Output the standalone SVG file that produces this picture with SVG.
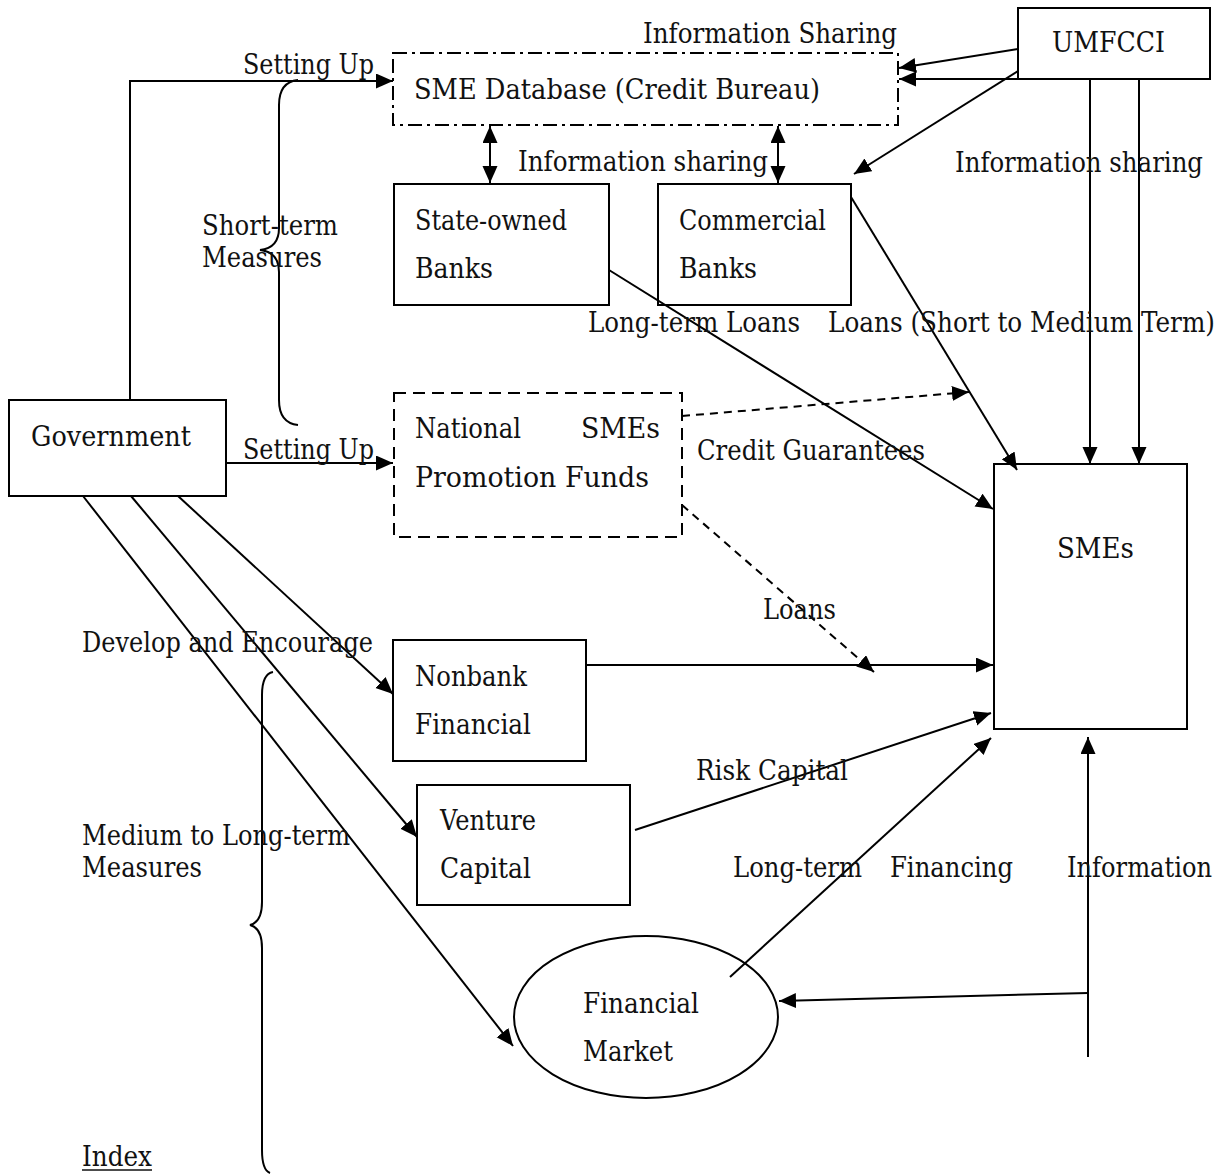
<svg xmlns="http://www.w3.org/2000/svg" width="1226" height="1175" viewBox="0 0 1226 1175">
<style>
  text { font-family: "DejaVu Serif", "Liberation Serif", serif; font-size: 27px; fill: #111; }
  .box { fill: none; stroke: #000; stroke-width: 2; }
  .dashdot { stroke-dasharray: 14 5 3 5; }
  .dash { stroke-dasharray: 12 7; }
  .ln { fill: none; stroke: #000; stroke-width: 2; }
  .arr { marker-end: url(#ah); }
  .dbl { marker-end: url(#ah); marker-start: url(#ah); }
  .dsh { stroke-dasharray: 8 6; }
</style>
<defs>
  <marker id="ah" markerUnits="userSpaceOnUse" markerWidth="18" markerHeight="16" refX="17" refY="7.5" orient="auto-start-reverse">
    <path d="M0,0 L17,7.5 L0,15 z" fill="#000"/>
  </marker>
</defs>
<rect width="1226" height="1175" fill="#fff"/>

<g id="connectors">
  <polyline class="ln arr" points="130,400 130,81 393,81"/>
  <line class="ln arr" x1="226" y1="463" x2="393" y2="463"/>
  <line class="ln arr" x1="1018" y1="49" x2="899" y2="68"/>
  <line class="ln arr" x1="1018" y1="79" x2="899" y2="79"/>
  <line class="ln arr" x1="1018" y1="71" x2="854" y2="174"/>
  <line class="ln arr" x1="1090" y1="79" x2="1090" y2="464"/>
  <line class="ln arr" x1="1139" y1="79" x2="1139" y2="464"/>
  <line class="ln dbl" x1="490" y1="126" x2="490" y2="183"/>
  <line class="ln dbl" x1="778" y1="126" x2="778" y2="183"/>
  <line class="ln arr" x1="609" y1="270" x2="993" y2="509"/>
  <line class="ln arr" x1="851" y1="197" x2="1017" y2="470"/>
  <line class="ln arr dsh" x1="682" y1="416" x2="969" y2="392"/>
  <line class="ln arr dsh" x1="682" y1="505" x2="874" y2="672"/>
  <line class="ln arr" x1="586" y1="665" x2="993" y2="665"/>
  <line class="ln arr" x1="635" y1="830" x2="991" y2="713"/>
  <line class="ln arr" x1="730" y1="977" x2="991" y2="738"/>
  <line class="ln arr" x1="1088" y1="1057" x2="1088" y2="737"/>
  <line class="ln arr" x1="1088" y1="993" x2="779" y2="1001"/>
  <line class="ln arr" x1="178" y1="496" x2="393" y2="694"/>
  <line class="ln arr" x1="131" y1="496" x2="417" y2="837"/>
  <line class="ln arr" x1="83" y1="496" x2="513" y2="1046"/>
  <path class="ln" d="M298,80 Q279,82 279,105 L279,228 Q279,248 260,250 Q279,252 279,272 L279,400 Q279,423 298,425"/>
  <path class="ln" d="M273,672 Q262,674 262,695 L262,902 Q262,922 250,925 Q262,928 262,948 L262,1150 Q262,1170 270,1173"/>
</g>

<g id="labels">
  <text x="643" y="43" textLength="254" lengthAdjust="spacingAndGlyphs">Information Sharing</text>
  <text x="243" y="74" textLength="131" lengthAdjust="spacingAndGlyphs">Setting Up</text>
  <text x="518" y="171" textLength="250" lengthAdjust="spacingAndGlyphs">Information sharing</text>
  <text x="955" y="172" textLength="248" lengthAdjust="spacingAndGlyphs">Information sharing</text>
  <text x="202" y="235" textLength="136" lengthAdjust="spacingAndGlyphs">Short-term</text>
  <text x="202" y="267" textLength="120" lengthAdjust="spacingAndGlyphs">Measures</text>
  <text x="588" y="332" textLength="212" lengthAdjust="spacingAndGlyphs">Long-term Loans</text>
  <text x="828" y="332" textLength="387" lengthAdjust="spacingAndGlyphs">Loans (Short to Medium Term)</text>
  <text x="243" y="459" textLength="131" lengthAdjust="spacingAndGlyphs">Setting Up</text>
  <text x="697" y="460" textLength="228" lengthAdjust="spacingAndGlyphs">Credit Guarantees</text>
  <text x="763" y="619" textLength="73" lengthAdjust="spacingAndGlyphs">Loans</text>
  <text x="82" y="652" textLength="291" lengthAdjust="spacingAndGlyphs">Develop and Encourage</text>
  <text x="696" y="780" textLength="152" lengthAdjust="spacingAndGlyphs">Risk Capital</text>
  <text x="82" y="845" textLength="268" lengthAdjust="spacingAndGlyphs">Medium to Long-term</text>
  <text x="82" y="877" textLength="120" lengthAdjust="spacingAndGlyphs">Measures</text>
  <text x="733" y="877" textLength="129" lengthAdjust="spacingAndGlyphs">Long-term</text>
  <text x="890" y="877" textLength="123" lengthAdjust="spacingAndGlyphs">Financing</text>
  <text x="1067" y="877" textLength="145" lengthAdjust="spacingAndGlyphs">Information</text>
  <text x="82" y="1166" textLength="70" lengthAdjust="spacingAndGlyphs">Index</text>
  <line x1="82" y1="1170" x2="152" y2="1170" stroke="#111" stroke-width="1.5"/>
</g>

<g id="sme-database">
  <rect class="box dashdot" x="393" y="53" width="505" height="72"/>
  <text x="414" y="99" textLength="406" lengthAdjust="spacingAndGlyphs">SME Database (Credit Bureau)</text>
</g>

<g id="umfcci">
  <rect class="box" x="1018" y="8" width="192" height="71"/>
  <text x="1052" y="52" textLength="113" lengthAdjust="spacingAndGlyphs">UMFCCI</text>
</g>

<g id="state-owned-banks">
  <rect class="box" x="394" y="184" width="215" height="121"/>
  <text x="415" y="230" textLength="152" lengthAdjust="spacingAndGlyphs">State-owned</text>
  <text x="415" y="278" textLength="78" lengthAdjust="spacingAndGlyphs">Banks</text>
</g>

<g id="commercial-banks">
  <rect class="box" x="658" y="184" width="193" height="121"/>
  <text x="679" y="230" textLength="147" lengthAdjust="spacingAndGlyphs">Commercial</text>
  <text x="679" y="278" textLength="78" lengthAdjust="spacingAndGlyphs">Banks</text>
</g>

<g id="government">
  <rect class="box" x="9" y="400" width="217" height="96"/>
  <text x="31" y="446" textLength="160" lengthAdjust="spacingAndGlyphs">Government</text>
</g>

<g id="national-fund">
  <rect class="box dash" x="394" y="393" width="288" height="144"/>
  <text x="415" y="438" textLength="106" lengthAdjust="spacingAndGlyphs">National</text>
  <text x="581" y="438" textLength="79" lengthAdjust="spacingAndGlyphs">SMEs</text>
  <text x="415" y="487" textLength="234" lengthAdjust="spacingAndGlyphs">Promotion Funds</text>
</g>

<g id="smes">
  <rect class="box" x="994" y="464" width="193" height="265"/>
  <text x="1057" y="558" textLength="77" lengthAdjust="spacingAndGlyphs">SMEs</text>
</g>

<g id="nonbank">
  <rect class="box" x="393" y="640" width="193" height="121"/>
  <text x="415" y="686" textLength="112" lengthAdjust="spacingAndGlyphs">Nonbank</text>
  <text x="415" y="734" textLength="116" lengthAdjust="spacingAndGlyphs">Financial</text>
</g>

<g id="venture-capital">
  <rect class="box" x="417" y="785" width="213" height="120"/>
  <text x="440" y="830" textLength="96" lengthAdjust="spacingAndGlyphs">Venture</text>
  <text x="440" y="878" textLength="91" lengthAdjust="spacingAndGlyphs">Capital</text>
</g>

<g id="financial-market">
  <ellipse class="box" cx="646" cy="1017" rx="132" ry="81"/>
  <text x="583" y="1013" textLength="116" lengthAdjust="spacingAndGlyphs">Financial</text>
  <text x="583" y="1061" textLength="90" lengthAdjust="spacingAndGlyphs">Market</text>
</g>
</svg>
